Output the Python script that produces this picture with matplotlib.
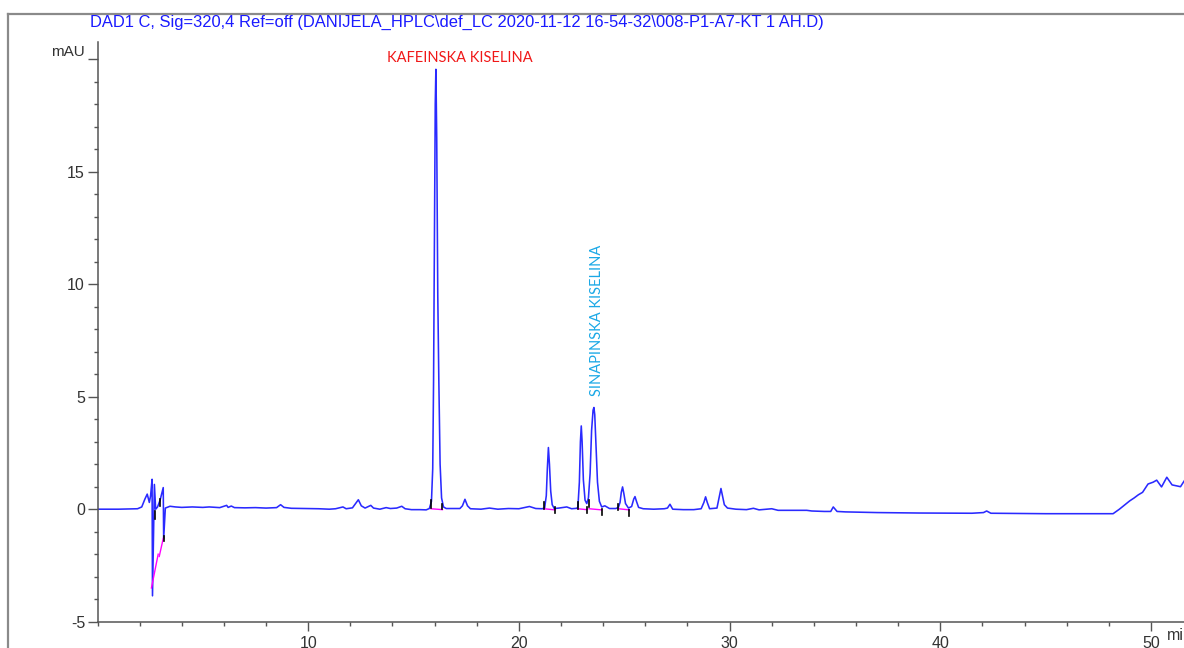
import matplotlib
matplotlib.use("Agg")
import matplotlib.pyplot as plt
from matplotlib.ticker import MultipleLocator
from matplotlib.lines import Line2D

# hromatogram DAD1 C, 320 nm -- vrednosti ocitane sa slike
vreme = [0.0, 1.0, 1.9, 2.1, 2.25, 2.36, 2.46, 2.52, 2.59, 2.61, 2.70, 2.76, 2.85,
         2.97, 3.12, 3.14, 3.22, 3.44, 3.7, 4.0, 4.5, 5.0, 5.3, 5.8, 6.13, 6.2,
         6.35, 6.5, 7.0, 7.5, 8.0, 8.5, 8.69, 8.85, 9.2, 9.8, 10.5, 11.0, 11.3,
         11.65, 11.8, 12.1, 12.25, 12.38, 12.52, 12.7, 12.97, 13.1, 13.4, 13.7,
         13.9, 14.2, 14.44, 14.6, 14.9, 15.3, 15.6, 15.75, 15.85, 15.91, 15.95,
         15.99, 16.03, 16.06, 16.10, 16.15, 16.20, 16.26, 16.33, 16.42, 16.55,
         17.2, 17.32, 17.44, 17.56, 17.7, 18.2, 18.6, 19.0, 19.5, 20.0, 20.5,
         20.8, 21.1, 21.22, 21.30, 21.35, 21.40, 21.45, 21.51, 21.58, 21.68,
         21.9, 22.27, 22.5, 22.75, 22.80, 22.87, 22.92, 22.96, 23.00, 23.06,
         23.14, 23.22, 23.30, 23.38, 23.45, 23.52, 23.56, 23.60, 23.66, 23.73,
         23.82, 23.93, 24.08, 24.3, 24.6, 24.72, 24.80, 24.86, 24.92, 24.98,
         25.06, 25.2, 25.35, 25.45, 25.51, 25.58, 25.68, 25.9, 26.4, 26.9,
         27.05, 27.17, 27.3, 27.8, 28.3, 28.65, 28.78, 28.86, 28.94, 29.05,
         29.4, 29.5, 29.59, 29.66, 29.75, 29.9, 30.3, 30.8, 31.13, 31.4, 32.0,
         32.3, 33.0, 33.66, 33.9, 34.5, 34.8, 34.92, 35.1, 35.5, 37.0, 39.0,
         41.5, 42.05, 42.2, 42.4, 45.0, 48.2, 48.5, 48.99, 49.2, 49.4, 49.6,
         49.86, 50.1, 50.27, 50.5, 50.75, 51.0, 51.4, 51.6, 52.5]
signal = [0.0, 0.0, 0.02, 0.1, 0.45, 0.67, 0.3, 0.6, 1.33, -3.85, 1.1, 0.0, 0.1,
          0.4, 0.96, -1.3, 0.05, 0.13, 0.1, 0.08, 0.1, 0.08, 0.1, 0.07, 0.17,
          0.08, 0.14, 0.07, 0.06, 0.07, 0.05, 0.07, 0.2, 0.08, 0.04, 0.03, 0.02,
          0.0, 0.02, 0.1, 0.02, 0.06, 0.25, 0.42, 0.15, 0.05, 0.17, 0.05, 0.0,
          0.07, 0.03, 0.05, 0.13, 0.02, -0.02, -0.02, -0.03, 0.03, 0.35, 1.8,
          5.7, 12.0, 18.0, 19.55, 16.5, 9.5, 5.7, 2.0, 0.5, 0.1, 0.03,
          0.03, 0.15, 0.44, 0.15, 0.02, 0.0, 0.05, 0.0, 0.03, 0.02, 0.12,
          0.03, 0.02, 0.05, 0.6, 1.8, 2.74, 2.0, 0.8, 0.2, 0.03,
          0.05, 0.1, 0.02, 0.04, 0.1, 1.2, 3.0, 3.7, 3.0, 1.3,
          0.4, 0.25, 0.5, 1.6, 3.5, 4.4, 4.52, 4.2, 2.8, 1.2,
          0.35, 0.1, 0.15, 0.03, 0.03, 0.08, 0.3, 0.75, 0.99, 0.7,
          0.25, 0.05, 0.12, 0.45, 0.56, 0.35, 0.08, 0.02, 0.0, 0.02,
          0.05, 0.22, 0.0, -0.02, -0.02, 0.02, 0.3, 0.55, 0.3, 0.02,
          0.05, 0.5, 0.92, 0.6, 0.2, 0.05, 0.0, -0.02, 0.04, -0.03, 0.02,
          -0.05, -0.05, -0.05, -0.08, -0.1, -0.1, 0.1, -0.1, -0.12, -0.15, -0.17,
          -0.18, -0.15, -0.08, -0.18, -0.2, -0.2, 0.0, 0.37, 0.5, 0.64, 0.75,
          1.12, 1.2, 1.29, 0.99, 1.42, 1.08, 1.0, 1.29, 1.3]

# integracione bazne linije (roze)
baza_x = [(2.56, 2.88), (2.93, 3.12), (15.83, 16.37), (21.19, 21.71),
          (22.79, 23.22), (23.33, 23.93), (24.72, 25.24)]
baza_y = [(-3.5, -2.0), (-2.1, -1.3), (0.02, -0.02), (0.02, -0.03),
          (0.02, -0.02), (0.02, -0.03), (0.02, -0.03)]

# markeri pocetka/kraja pika (crni)
marker_x = [2.74, 2.97, 3.16, 15.83, 16.37, 21.19, 21.71, 22.79, 23.22,
            23.33, 23.93, 24.72, 25.24]
marker_y = [(-0.43, -0.1), (0.15, 0.45), (-1.4, -1.2), (0.07, 0.4), (0.0, 0.25),
            (0.0, 0.3), (-0.15, 0.1), (0.0, 0.3), (-0.15, 0.1), (0.1, 0.4),
            (-0.25, 0.0), (-0.05, 0.25), (-0.3, -0.05)]

naslov = "DAD1 C, Sig=320,4 Ref=off (DANIJELA_HPLC\\def_LC 2020-11-12 16-54-32\\008-P1-A7-KT 1 AH.D)"
y_tikovi = [-5, 0, 5, 10, 15, 20]
y_oznake = ["-5", "0", "5", "10", "15", ""]
x_tikovi = [10, 20, 30, 40, 50]

W, H = 1184, 648
fig = plt.figure(figsize=(W / 100, H / 100), dpi=100)
ax = fig.add_axes([97.5 / W, (H - 621.7) / H, 56 * 21.07 / W, 579.4 / H])

siva = "#555555"
ax.plot(vreme, signal, color="#2a2aff", lw=1.15, zorder=2)
for (x0, x1), (y0, y1) in zip(baza_x, baza_y):
    ax.plot([x0, x1], [y0, y1], color="#ff00ff", lw=1.0, zorder=3)
for x, (y0, y1) in zip(marker_x, marker_y):
    ax.plot([x, x], [y0, y1], color="black", lw=1.2, zorder=4)

ax.set_xlim(0, 56)
ax.set_ylim(-5, 20.75)
for s in ["top", "right"]:
    ax.spines[s].set_visible(False)
for s in ["left", "bottom"]:
    ax.spines[s].set_color(siva)
    ax.spines[s].set_linewidth(1.1)

ax.set_yticks(y_tikovi)
ax.set_yticklabels(y_oznake)
ax.yaxis.set_minor_locator(MultipleLocator(1))
ax.set_xticks(x_tikovi)
ax.xaxis.set_minor_locator(MultipleLocator(2))
ax.tick_params(axis="y", which="major", length=7.2, width=1.0, color=siva, pad=1.8,
               labelsize=11.5, labelcolor="#333333")
ax.tick_params(axis="y", which="minor", length=2.9, width=1.0, color=siva)
ax.tick_params(axis="x", which="major", length=6.3, width=1.0, color=siva, pad=4,
               labelsize=11.5, labelcolor="#333333")
ax.tick_params(axis="x", which="minor", length=3.1, width=1.0, color=siva)
for lab in ax.get_xticklabels() + ax.get_yticklabels():
    lab.set_family("Liberation Sans")

ax.annotate("mAU", xy=(0, 20), xytext=(-9, 5.5), textcoords="offset points",
            ha="right", va="center", fontsize=11, color="#333333",
            family="Liberation Sans", annotation_clip=False)
ax.annotate("min", xy=(50.75, -5), xytext=(0, -4.5), textcoords="offset points",
            ha="left", va="top", fontsize=11.5, color="#333333",
            family="Liberation Sans", annotation_clip=False)

ax.text(17.2, 20.06, "KAFEINSKA KISELINA", color="#f01818", fontsize=10.5,
        family="Lato", ha="center", va="center", clip_on=False)
ax.text(23.71, 8.37, "SINAPINSKA KISELINA", color="#1aa8e6", fontsize=10.5,
        family="Lato", ha="center", va="center", rotation=90, clip_on=False)

fig.text(90 / W, 1 - 22.5 / H, naslov, color="#1a1aff", fontsize=11.9,
         family="Liberation Sans", ha="left", va="center")

# sivi okvir oko grafika
fig.add_artist(Line2D([8 / W, 8 / W], [0, 1 - 14 / H], transform=fig.transFigure,
                      color="#8a8a8a", lw=1.6))
fig.add_artist(Line2D([8 / W, 1], [1 - 14 / H, 1 - 14 / H], transform=fig.transFigure,
                      color="#8a8a8a", lw=1.6))

fig.savefig("out.png", dpi=100)
